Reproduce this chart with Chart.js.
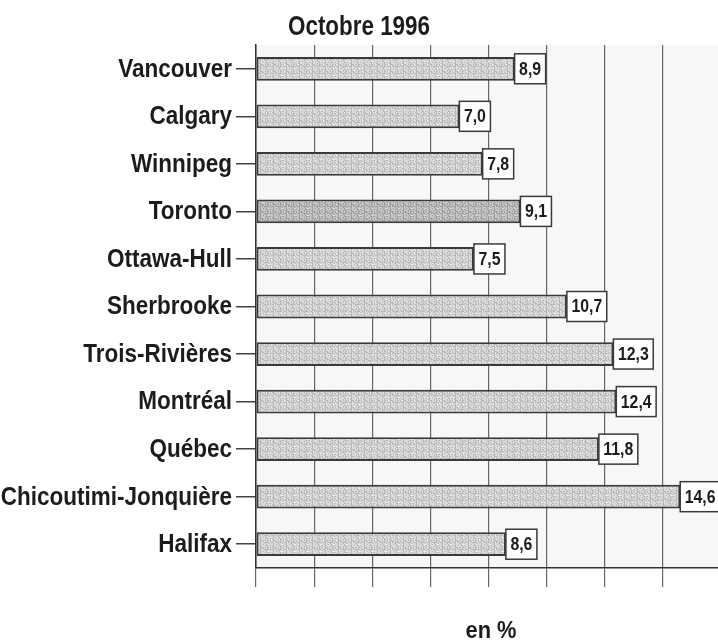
<!DOCTYPE html>
<html>
<head>
<meta charset="utf-8">
<script src="https://cdn.jsdelivr.net/npm/chart.js@4/dist/chart.umd.min.js"></script>
<style>
  html, body { margin: 0; padding: 0; background: #fff; overflow: hidden; }
  #wrap { width: 718px; height: 641px; }
  canvas { display: block; }
</style>
</head>
<body>
<div id="wrap"><canvas id="chart" width="718" height="641"></canvas></div>
<script>
const cities = ['Vancouver', 'Calgary', 'Winnipeg', 'Toronto', 'Ottawa-Hull', 'Sherbrooke',
  'Trois-Rivières', 'Montréal', 'Québec', 'Chicoutimi-Jonquière', 'Halifax'];
const rates = [8.9, 7.0, 7.8, 9.1, 7.5, 10.7, 12.3, 12.4, 11.8, 14.6, 8.6];
const highlighted = ['Toronto'];
const chartTitle = 'Octobre 1996';
const axisTitle = 'en %';
const gridSteps = [0, 2, 4, 6, 8, 10, 12, 14];

const FONT = "'Liberation Sans', Arial, sans-serif";

// the original uses a narrow bold face; no narrow font here, so squeeze the text horizontally
function narrowText(ctx, text, x, y, size, sx, align, baseline) {
  ctx.save();
  ctx.font = 'bold ' + size + 'px ' + FONT;
  ctx.fillStyle = '#1c1c1c';
  ctx.textAlign = align;
  ctx.textBaseline = baseline;
  ctx.translate(x, y);
  ctx.scale(sx, 1);
  ctx.fillText(text, 0, 0);
  ctx.restore();
}

// stippled grey fill like the printed chart
function makePattern(base, light, dark) {
  const c = document.createElement('canvas');
  c.width = 13; c.height = 7;
  const g = c.getContext('2d');
  g.fillStyle = base;
  g.fillRect(0, 0, 13, 7);
  for (let y = 0; y < 7; y++) {
    for (let x = 0; x < 13; x++) {
      const k = ((x * 37 + y * 91) ^ (x * y * 5)) % 7;
      if (k === 0 || k === 3) { g.fillStyle = dark; g.fillRect(x, y, 1, 1); }
      else if (k === 5) { g.fillStyle = light; g.fillRect(x, y, 1, 1); }
    }
  }
  return g.createPattern(c, 'repeat');
}
const normalFill = makePattern('#dadada', '#f2f2f2', '#b8b8b8');
const darkFill = makePattern('#c4c4c4', '#dcdcdc', '#9e9e9e');

const plotBg = {
  id: 'plotBg',
  beforeDraw(chart) {
    const { ctx, chartArea: a } = chart;
    ctx.save();
    ctx.fillStyle = '#f7f7f7';
    ctx.fillRect(a.left, a.top, chart.width - a.left, a.bottom - a.top);
    ctx.restore();
  }
};

const texts = {
  id: 'texts',
  afterDraw(chart) {
    const ctx = chart.ctx;
    const y = chart.scales.y;
    const a = chart.chartArea;
    cities.forEach((c, i) => {
      narrowText(ctx, c, 232, y.getPixelForTick(i) + 1, 25, 0.9, 'right', 'middle');
    });
    narrowText(ctx, chartTitle, chart.width / 2, 35, 27, 0.83, 'center', 'alphabetic');
    narrowText(ctx, axisTitle, (a.left + a.right) / 2 + 4, 638, 24, 0.91, 'center', 'alphabetic');
  }
};

const valueBoxes = {
  id: 'valueBoxes',
  afterDatasetsDraw(chart) {
    const ctx = chart.ctx;
    const meta = chart.getDatasetMeta(0);
    meta.data.forEach((bar, i) => {
      const txt = rates[i].toFixed(1).replace('.', ',');
      ctx.save();
      ctx.font = 'bold 18px ' + FONT;
      const w = ctx.measureText(txt).width * 0.88 + 9;
      const h = 30;
      const x = bar.x;
      const top = bar.y - h / 2;
      ctx.fillStyle = '#ffffff';
      ctx.fillRect(x, top, w, h);
      ctx.strokeStyle = '#3a3a3a';
      ctx.lineWidth = 1.5;
      ctx.strokeRect(x, top, w, h);
      ctx.restore();
      narrowText(ctx, txt, x + 4.5, bar.y + 1, 18, 0.88, 'left', 'middle');
    });
  }
};

new Chart(document.getElementById('chart'), {
  type: 'bar',
  data: {
    labels: cities,
    datasets: [{
      data: rates,
      backgroundColor: cities.map(c => highlighted.includes(c) ? darkFill : normalFill),
      borderColor: '#3a3a3a',
      borderWidth: 2,
      borderSkipped: false,
      barPercentage: 0.5,
      categoryPercentage: 1
    }]
  },
  options: {
    indexAxis: 'y',
    responsive: false,
    animation: false,
    layout: { padding: { left: 0, right: 0, top: 45, bottom: 54 } },
    plugins: {
      legend: { display: false },
      tooltip: { enabled: false },
      title: { display: false }
    },
    scales: {
      x: {
        min: 0,
        max: 15.9,
        bounds: 'data',
        afterBuildTicks(scale) { scale.ticks = gridSteps.map(v => ({ value: v })); },
        ticks: { display: false },
        grid: { color: '#666', lineWidth: 1.2, tickLength: 19, drawTicks: true },
        border: { color: '#333', width: 1.5 }
      },
      y: {
        afterFit(scale) { scale.width = 256; },
        ticks: { display: false },
        grid: { offset: false, drawOnChartArea: false, drawTicks: true, tickLength: 20, color: '#444', lineWidth: 1.5 },
        border: { color: '#333', width: 1.5 }
      }
    }
  },
  plugins: [plotBg, valueBoxes, texts]
});
</script>
</body>
</html>
